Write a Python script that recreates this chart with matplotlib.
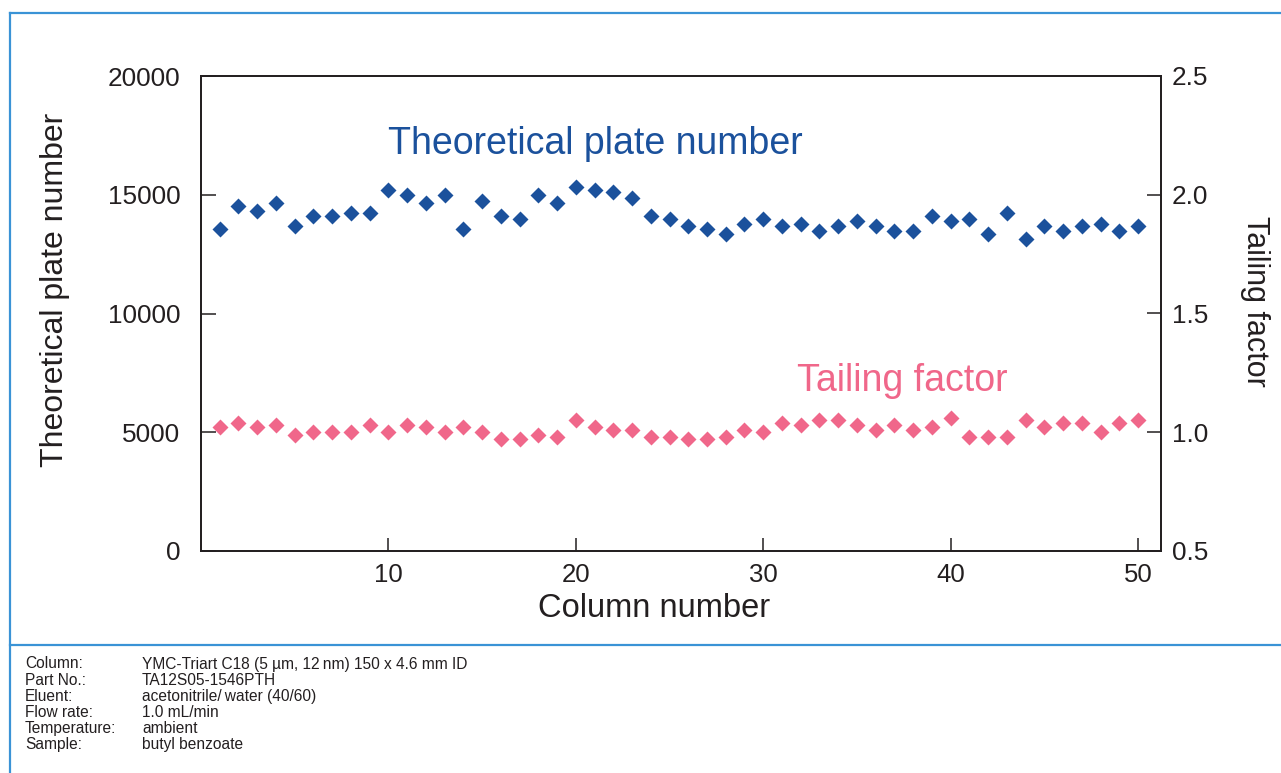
import matplotlib
matplotlib.use("Agg")
import matplotlib.pyplot as plt
from matplotlib.lines import Line2D
import numpy as np

plt.rcParams['font.family'] = ['Liberation Sans', 'DejaVu Sans']

columns = list(range(1, 51))
plate_number = [13560, 14540, 14330, 14660, 13670, 14100, 14100, 14220, 14220, 15200,
                14990, 14660, 14990, 13560, 14750, 14100, 13990, 14990, 14660, 15330,
                15200, 15100, 14880, 14100, 13990, 13670, 13560, 13360, 13780, 13990,
                13670, 13780, 13460, 13670, 13900, 13670, 13460, 13460, 14100, 13900,
                13990, 13360, 14220, 13140, 13670, 13460, 13670, 13780, 13460, 13670]
tailing_factor = [1.02, 1.04, 1.02, 1.03, 0.99, 1.00, 1.00, 1.00, 1.03, 1.00,
                  1.03, 1.02, 1.00, 1.02, 1.00, 0.97, 0.97, 0.99, 0.98, 1.05,
                  1.02, 1.01, 1.01, 0.98, 0.98, 0.97, 0.97, 0.98, 1.01, 1.00,
                  1.04, 1.03, 1.05, 1.05, 1.03, 1.01, 1.03, 1.01, 1.02, 1.06,
                  0.98, 0.98, 0.98, 1.05, 1.02, 1.04, 1.04, 1.00, 1.04, 1.05]
x_ticks = [10, 20, 30, 40, 50]
left_ticks = [0, 5000, 10000, 15000, 20000]
right_ticks = [0.5, 1.0, 1.5, 2.0, 2.5]
right_tick_labels = ["0.5", "1.0", "1.5", "2.0", "2.5"]

notes_keys = ["Column:", "Part No.:", "Eluent:", "Flow rate:", "Temperature:", "Sample:"]
notes_vals = ["YMC-Triart C18 (5 µm, 12\u2009nm) 150 x 4.6 mm ID", "TA12S05-1546PTH",
              "acetonitrile/\u2009water (40/60)", "1.0 mL/min", "ambient", "butyl benzoate"]

BLUE = "#1b519c"
PINK = "#f0678a"
FRAME = "#3a93d6"
DARK = "#231f20"

W, H = 1281, 773
fig = plt.figure(figsize=(W / 100, H / 100), dpi=100)
ax = fig.add_axes([201 / W, 1 - 551 / H, (1160.5 - 201) / W, (551 - 76) / H])
ax2 = ax.twinx()

ax.plot(columns, plate_number, linestyle="none", marker="D", ms=8.3,
        color=BLUE, mec="none", zorder=3)
ax2.plot(columns, tailing_factor, linestyle="none", marker="D", ms=8.3,
         color=PINK, mec="none", zorder=3)

ax.set_xlim(0, 51.2)
ax.set_ylim(0, 20000)
ax2.set_ylim(0.5, 2.5)

ax.set_xticks(x_ticks)
ax.set_yticks(left_ticks)
ax.set_yticklabels([str(v) for v in left_ticks])
ax2.set_yticks(right_ticks)
ax2.set_yticklabels(right_tick_labels)

for a in (ax, ax2):
    for s in a.spines.values():
        s.set_linewidth(1.3)
        s.set_color(DARK)

ax.tick_params(axis="x", direction="in", length=9.5, width=1.1, pad=9,
               labelsize=18.5, colors=DARK, top=False)
ax.tick_params(axis="y", direction="in", length=11, width=1.1, pad=15,
               labelsize=18.8, colors=DARK)
ax2.tick_params(axis="y", direction="in", length=10, width=1.1, pad=8,
                labelsize=18.8, colors=DARK)

ax.set_xlabel("Column number", fontsize=23.5, color=DARK)
ax.xaxis.set_label_coords(0.472, -0.088)
ax.set_ylabel("Theoretical plate number", fontsize=23, color=DARK)
ax.yaxis.set_label_coords(-0.137, 0.549)
ax2.set_ylabel("Tailing factor", fontsize=22, color=DARK, rotation=270)
ax2.yaxis.set_label_coords(1.114, 0.526)

ax.text(21.05, 17150, "Theoretical plate number", color=BLUE, fontsize=27,
        ha="center", va="center")
ax.text(37.4, 7150, "Tailing factor", color=PINK, fontsize=27,
        ha="center", va="center")

# frame lines
fig.add_artist(Line2D([10 / W, 1], [1 - 13 / H, 1 - 13 / H], color=FRAME, lw=1.6))
fig.add_artist(Line2D([10 / W, 10 / W], [0, 1 - 13 / H], color=FRAME, lw=1.6))
fig.add_artist(Line2D([10 / W, 1], [1 - 645 / H, 1 - 645 / H], color=FRAME, lw=1.6))

for i, (k, v) in enumerate(zip(notes_keys, notes_vals)):
    yy = 1 - (664 + 16.1 * i) / H
    fig.text(25 / W, yy, k, fontsize=11.2, color=DARK, va="center", ha="left")
    fig.text(142 / W, yy, v, fontsize=11.2, color=DARK, va="center", ha="left")

fig.savefig("out.png", dpi=100)
